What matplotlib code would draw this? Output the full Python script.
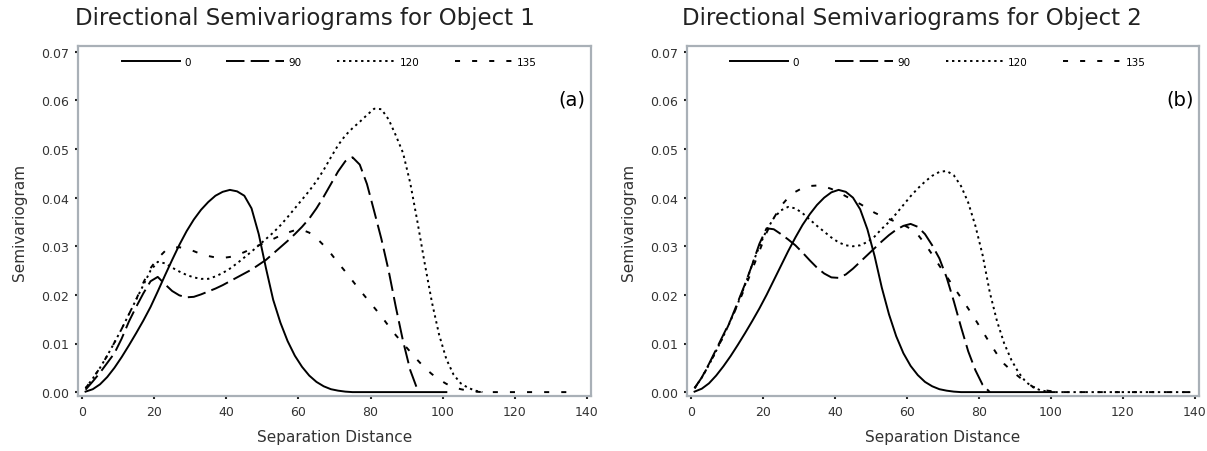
import numpy as np
import matplotlib
matplotlib.use("Agg")
import matplotlib.pyplot as plt

# separation distances (lags)
lag_1 = np.arange(1, 136, 2)
lag_2 = np.arange(1, 140, 2)

directions = ["0", "90", "120", "135"]

# Object 1 semivariograms
obj1_0 = [0.0001, 0.0006, 0.0016, 0.0031, 0.0050, 0.0072, 0.0096, 0.0121, 0.0147, 0.0175,
          0.0207, 0.0240, 0.0272, 0.0303, 0.0331, 0.0355, 0.0375, 0.0391, 0.0404, 0.0412,
          0.0416, 0.0413, 0.0404, 0.0378, 0.0325, 0.0255, 0.0190, 0.0143, 0.0105, 0.0075,
          0.0052, 0.0034, 0.0021, 0.0012, 0.0006, 0.0003, 0.0001] + [0.0] * 14
obj1_90 = [0.0005, 0.0022, 0.0040, 0.0060, 0.0080, 0.0110, 0.0145, 0.0175, 0.0203, 0.0228,
           0.0237, 0.0222, 0.0208, 0.0199, 0.0195, 0.0196, 0.0201, 0.0207, 0.0213, 0.0220,
           0.0228, 0.0236, 0.0244, 0.0252, 0.0262, 0.0272, 0.0285, 0.0298, 0.0311, 0.0325,
           0.0340, 0.0357, 0.0378, 0.0402, 0.0428, 0.0454, 0.0475, 0.0483, 0.0468, 0.0428,
           0.0372, 0.0315, 0.0250, 0.0175, 0.0105, 0.0045, 0.0005]
obj1_120 = [0.0008, 0.0028, 0.0050, 0.0075, 0.0102, 0.0130, 0.0160, 0.0190, 0.0220, 0.0250,
            0.0268, 0.0265, 0.0256, 0.0248, 0.0241, 0.0236, 0.0233, 0.0233, 0.0238, 0.0245,
            0.0254, 0.0265, 0.0277, 0.0289, 0.0302, 0.0315, 0.0328, 0.0343, 0.0360, 0.0378,
            0.0396, 0.0414, 0.0434, 0.0457, 0.0483, 0.0508, 0.0528, 0.0543, 0.0556, 0.0570,
            0.0583, 0.0582, 0.0561, 0.0528, 0.0492, 0.0430, 0.0350, 0.0265, 0.0185, 0.0118,
            0.0068, 0.0036, 0.0018, 0.0009, 0.0003, 0.0]
obj1_135 = [0.0008, 0.0028, 0.0050, 0.0075, 0.0102, 0.0130, 0.0160, 0.0190, 0.0225, 0.0255,
            0.0275, 0.0290, 0.0297, 0.0298, 0.0295, 0.0290, 0.0284, 0.0280, 0.0277, 0.0276,
            0.0278, 0.0282, 0.0288, 0.0295, 0.0302, 0.0308, 0.0315, 0.0322, 0.0328, 0.0333,
            0.0334, 0.0328, 0.0317, 0.0302, 0.0285, 0.0266, 0.0248, 0.0229, 0.0210, 0.0192,
            0.0174, 0.0156, 0.0136, 0.0117, 0.0100, 0.0083, 0.0066, 0.0050, 0.0037, 0.0026,
            0.0017, 0.0010, 0.0006, 0.0003, 0.0001] + [0.0] * 13

# Object 2 semivariograms
obj2_0 = [0.0001, 0.0007, 0.0018, 0.0034, 0.0053, 0.0074, 0.0097, 0.0121, 0.0146, 0.0172,
          0.0200, 0.0230, 0.0260, 0.0290, 0.0318, 0.0344, 0.0366, 0.0385, 0.0400, 0.0411,
          0.0416, 0.0412, 0.0400, 0.0376, 0.0335, 0.0280, 0.0215, 0.0160, 0.0115, 0.0080,
          0.0054, 0.0035, 0.0021, 0.0012, 0.0006, 0.0003, 0.0001] + [0.0] * 14
obj2_90 = [0.0008, 0.0030, 0.0058, 0.0088, 0.0118, 0.0148, 0.0185, 0.0222, 0.0262, 0.0305,
           0.0337, 0.0335, 0.0325, 0.0314, 0.0302, 0.0287, 0.0271, 0.0256, 0.0244, 0.0236,
           0.0235, 0.0242, 0.0254, 0.0268, 0.0282, 0.0296, 0.0310, 0.0323, 0.0334, 0.0342,
           0.0346, 0.0340, 0.0325, 0.0302, 0.0275, 0.0236, 0.0187, 0.0134, 0.0084, 0.0045,
           0.0015, 0.0]
obj2_120 = [0.0008, 0.0030, 0.0056, 0.0085, 0.0115, 0.0147, 0.0182, 0.0220, 0.0262, 0.0300,
            0.0333, 0.0358, 0.0374, 0.0381, 0.0378, 0.0368, 0.0355, 0.0342, 0.0330, 0.0318,
            0.0308, 0.0302, 0.0300, 0.0302, 0.0309, 0.0320, 0.0336, 0.0350, 0.0367, 0.0385,
            0.0403, 0.0419, 0.0433, 0.0445, 0.0453, 0.0455, 0.0446, 0.0424, 0.0390, 0.0342,
            0.0282, 0.0205, 0.0146, 0.0100, 0.0066, 0.0040, 0.0021, 0.0010, 0.0004, 0.0001] + [0.0] * 20
obj2_135 = [0.0008, 0.0030, 0.0056, 0.0085, 0.0115, 0.0147, 0.0180, 0.0215, 0.0252, 0.0290,
            0.0328, 0.0358, 0.0383, 0.0400, 0.0412, 0.0420, 0.0424, 0.0425, 0.0423, 0.0418,
            0.0411, 0.0403, 0.0395, 0.0387, 0.0378, 0.0369, 0.0362, 0.0356, 0.0350, 0.0344,
            0.0336, 0.0324, 0.0305, 0.0283, 0.0260, 0.0238, 0.0216, 0.0194, 0.0172, 0.0149,
            0.0125, 0.0101, 0.0078, 0.0058, 0.0044, 0.0032, 0.0020, 0.0011, 0.0006, 0.0003,
            0.0001] + [0.0] * 19

y_ticks = [0.00, 0.01, 0.02, 0.03, 0.04, 0.05, 0.06, 0.07]
x_ticks = [0, 20, 40, 60, 80, 100, 120, 140]

styles = ["-", (0, (9.5, 3.2)), (0, (1.2, 1.9)), (0, (2.6, 6.2))]
narrow = ["Liberation Sans Narrow", "DejaVu Sans"]
spine_col = "#a9b0b7"

fig = plt.figure(figsize=(12.07, 4.52), dpi=100)
ax1 = fig.add_axes([78 / 1207, 55 / 452, 513 / 1207, 350 / 452])
ax2 = fig.add_axes([687 / 1207, 55 / 452, 512 / 1207, 350 / 452])

panels = [
    (ax1, lag_1, [obj1_0, obj1_90, obj1_120, obj1_135], "(a)", "Directional Semivariograms for Object 1", 305),
    (ax2, lag_2, [obj2_0, obj2_90, obj2_120, obj2_135], "(b)", "Directional Semivariograms for Object 2", 912),
]

for ax, lag, series, tag, title, tx in panels:
    for vals, ls, name in zip(series, styles, directions):
        ax.plot(lag[:len(vals)], vals, color="black", lw=1.4, linestyle=ls, label=name)
    ax.set_xlim(-1.1, 141.1)
    ax.set_ylim(-0.0008, 0.0712)
    ax.set_xticks(x_ticks)
    ax.set_yticks(y_ticks)
    ax.set_yticklabels(["%.2f" % v for v in y_ticks])
    ax.tick_params(length=2.5, width=1.5, color="#222222", labelsize=9,
                   labelcolor="#333333", pad=4)
    for s in ax.spines.values():
        s.set_color(spine_col)
        s.set_linewidth(1.6)
    ax.set_xlabel("Separation Distance", fontsize=11, color="#333333", labelpad=8)
    ax.set_ylabel("Semivariogram", fontsize=11, color="#333333", labelpad=10)
    ax.text(0.99, 0.85, tag, transform=ax.transAxes, ha="right", va="center",
            fontsize=14, family=narrow)
    leg = ax.legend(loc="center", bbox_to_anchor=(0.49, 0.954), ncol=4, frameon=False,
                    handlelength=5.6, handletextpad=0.4, columnspacing=3.4,
                    prop={"family": narrow, "size": 7.5}, borderaxespad=0)
    fig.text(tx / 1207, 1 - 18 / 452, title, ha="center", va="center",
             fontsize=16.5, color="#222222")

fig.savefig("out.png", dpi=100)
